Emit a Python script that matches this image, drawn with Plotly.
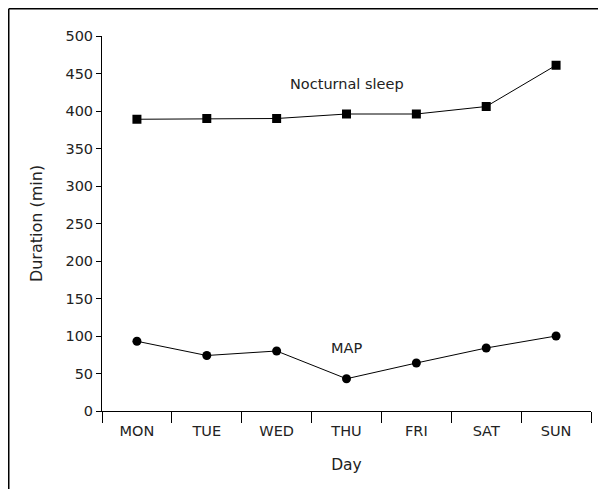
import plotly.graph_objects as go

days = ["MON", "TUE", "WED", "THU", "FRI", "SAT", "SUN"]
nocturnal_sleep = [389, 390, 390, 396, 396, 406, 461]
map_nap = [93, 74, 80, 43, 64, 84, 100]
y_ticks = [0, 50, 100, 150, 200, 250, 300, 350, 400, 450, 500]

FONT = "DejaVu Sans"
TXT = "#222"
# page body has an 8px margin, so the figure is sized to fit the window
W, H = 598, 481
ML, MR, MT, MB = 94, 15, 28, 78

fig = go.Figure()
fig.add_trace(go.Scatter(
    x=days, y=nocturnal_sleep, mode="lines+markers",
    line=dict(color="black", width=1),
    marker=dict(symbol="square", size=9, color="black"),
    showlegend=False))
fig.add_trace(go.Scatter(
    x=days, y=map_nap, mode="lines+markers",
    line=dict(color="black", width=1),
    marker=dict(symbol="circle", size=9, color="black"),
    showlegend=False))

fig.add_annotation(x="THU", y=436, text="Nocturnal sleep", showarrow=False,
                   font=dict(family=FONT, size=14.5, color=TXT))
fig.add_annotation(x="THU", y=84, text="MAP", showarrow=False,
                   font=dict(family=FONT, size=14.5, color=TXT))

pw = W - ML - MR
ph = H - MT - MB
def px_to_paper_x(px):
    return (px - ML) / pw
def px_to_paper_y(py):
    return (H - MB - py) / ph

# frame lines (left and top only, as in the reference)
fig.add_shape(type="line", xref="paper", yref="paper",
              x0=px_to_paper_x(0.75), x1=px_to_paper_x(0.75),
              y0=px_to_paper_y(0.75), y1=px_to_paper_y(H),
              line=dict(color="black", width=1.5))
fig.add_shape(type="line", xref="paper", yref="paper",
              x0=px_to_paper_x(0.75), x1=px_to_paper_x(W),
              y0=px_to_paper_y(0.75), y1=px_to_paper_y(0.75),
              line=dict(color="black", width=1.5))

fig.update_layout(
    width=W, height=H,
    margin=dict(l=ML, r=MR, t=MT, b=MB, pad=0),
    paper_bgcolor="white", plot_bgcolor="white",
    font=dict(family=FONT, size=14, color=TXT),
    xaxis=dict(
        type="category", range=[-0.5, 6.5], tickson="boundaries",
        ticks="outside", ticklen=11, tickcolor="black", tickwidth=1,
        ticklabelstandoff=7,
        showline=True, linecolor="black", linewidth=1,
        showgrid=False, zeroline=False, automargin=False,
        tickfont=dict(family=FONT, size=14.5, color=TXT),
        title=dict(text="Day", standoff=20,
                   font=dict(family=FONT, size=15.5, color=TXT)),
    ),
    yaxis=dict(
        range=[0, 500], tickvals=y_ticks,
        ticks="outside", ticklen=5, tickcolor="black", tickwidth=1,
        showline=True, linecolor="black", linewidth=1,
        showgrid=False, zeroline=False, automargin=False,
        tickfont=dict(family=FONT, size=14.5, color=TXT),
        title=dict(text="Duration (min)", standoff=18,
                   font=dict(family=FONT, size=16, color=TXT)),
    ),
)

fig.write_html("out.html")
